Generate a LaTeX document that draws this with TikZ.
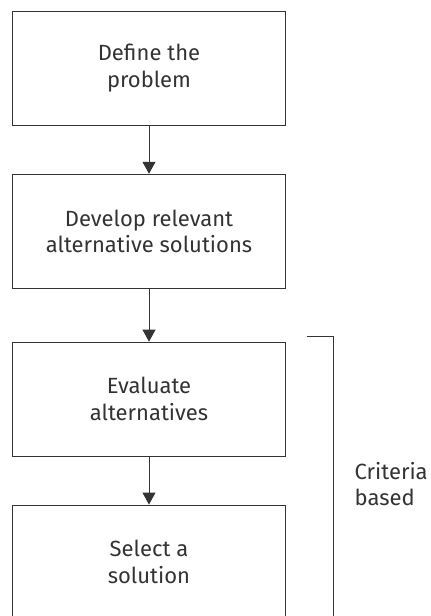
\documentclass[tikz,border=0pt]{standalone}
\usepackage{fontspec}
\setmainfont{Fira Sans}
\usepackage{tikz}
\usetikzlibrary{arrows.meta,positioning}
\definecolor{inkgray}{HTML}{333333}
\tikzset{
    stepbox/.style={
        draw=inkgray,
        line width=0.9pt,
        align=center,
        text=inkgray,
        font=\fontsize{22}{26.5}\selectfont,
        minimum width=272.6pt,
        minimum height=114pt,
        inner sep=0pt
    },
    flow/.style={
        -{Triangle[length=12pt,width=13pt]},
        draw=inkgray,
        line width=0.9pt
    },
    bracket/.style={
        draw=inkgray,
        line width=0.9pt
    }
}

\begin{document}
\begin{tikzpicture}[x=1pt,y=-1pt]
        \clip (0,0) rectangle (431,616);

        \node[stepbox] (define) at (149,68.3) {Define the\\problem};
        \node[stepbox, below=48pt of define] (develop) {Develop relevant\\alternative solutions};
        \node[stepbox, below=53pt of develop] (evaluate) {Evaluate\\alternatives};
        \node[stepbox, below=48pt of evaluate] (select) {Select a\\solution};

        \draw[flow] (define) -- (develop);
        \draw[flow] (develop) -- (evaluate);
        \draw[flow] (evaluate) -- (select);

        % bracket on the right
        \coordinate (brtop) at (306.7,336.7);
        \coordinate (brcorner) at (333,336.7);
        \coordinate (brend) at (333,630);
        \draw[bracket] (brtop) -- (brcorner) -- (brend);

        \node[anchor=west, align=left, inner sep=0pt, text=inkgray,
              font=\fontsize{22}{26.5}\selectfont] (criteria) at (354.5,484) {Criteria\\based};
    \end{tikzpicture}
\end{document}
